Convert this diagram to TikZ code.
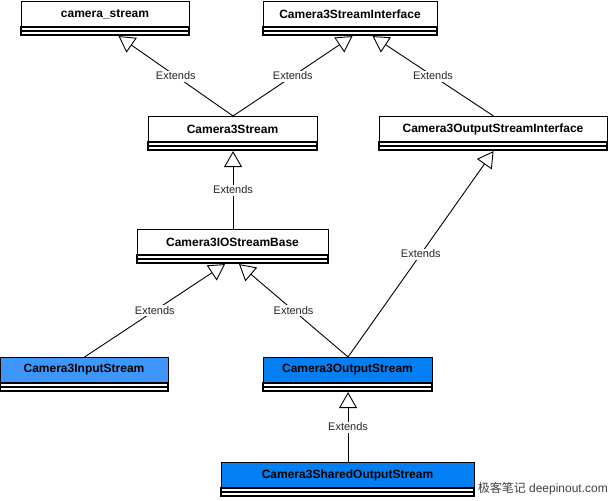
\documentclass[tikz,border=0pt]{standalone}
\usepackage{fontspec}
\setmainfont{Liberation Sans}
\newfontfamily\cjk{Noto Sans CJK SC}
\usetikzlibrary{arrows.meta,calc}
\definecolor{lblue}{HTML}{3E96FA}
\definecolor{dblue}{HTML}{037EF3}
\tikzset{
  box/.style={draw,line width=1.1pt,anchor=north west,inner sep=0pt,minimum height=34pt},
  ttl/.style={font=\bfseries\fontsize{12}{14}\selectfont},
  ext/.style={line width=0.9pt,-{Triangle[open,width=18pt,length=16pt,fill=white]}},
  lbl/.style={fill=white,inner sep=1.5pt,font=\fontsize{11}{13}\selectfont,text=black!85}
}
\newcommand\umlbox[6]{%
  \node[box,fill=#5,minimum width={(#3-#2)*1pt}] (#1) at (#2,#4) {};
  \draw[line width=1.1pt,fill=white] (#2,#4+26) rectangle (#3,#4+30);
  \draw[line width=1.1pt,fill=white] (#2,#4+30) rectangle (#3,#4+34);
  \node[ttl] at ($(#2,#4)!0.5!(#3,#4)+(0,13)$) {#6};
}
\begin{document}
\begin{tikzpicture}[x=1pt,y=-1pt]
\useasboundingbox (0,0) rectangle (612,500);
\umlbox{cs}{21}{189}{1}{white}{camera\_stream}
\umlbox{csi}{263}{437}{1}{white}{Camera3StreamInterface}
\umlbox{c3s}{148}{317}{116}{white}{Camera3Stream}
\umlbox{cosi}{379}{607}{116}{white}{Camera3OutputStreamInterface}
\umlbox{iob}{137}{328}{229}{white}{Camera3IOStreamBase}
\umlbox{cin}{0}{168}{357}{lblue}{Camera3InputStream}
\umlbox{cout}{263}{432}{357}{dblue}{Camera3OutputStream}
\umlbox{csh}{221}{474}{462}{dblue}{Camera3SharedOutputStream}
\draw[ext] (c3s.north) -- node[lbl]{Extends} ([xshift=13pt]cs.south);
\draw[ext] (c3s.north) -- node[lbl]{Extends} ([xshift=2pt]csi.south);
\draw[ext] (cosi.north) -- node[lbl]{Extends} ([xshift=22pt]csi.south);
\draw[ext] (iob.north) -- node[lbl]{Extends} (c3s.south);
\draw[ext] (cin.north) -- node[lbl]{Extends} ([xshift=-8pt]iob.south);
\draw[ext] (cout.north) -- node[lbl]{Extends} ([xshift=6pt]iob.south);
\draw[ext] (cout.north) -- node[lbl]{Extends} (cosi.south);
\draw[ext] (csh.north) -- node[lbl]{Extends} (cout.south);
\node[anchor=east,inner sep=0pt,font=\fontsize{12}{14}\selectfont,text=black!75] (wm) at (608,489) {{\cjk 极客笔记} deepinout.com};
\end{tikzpicture}
\end{document}
